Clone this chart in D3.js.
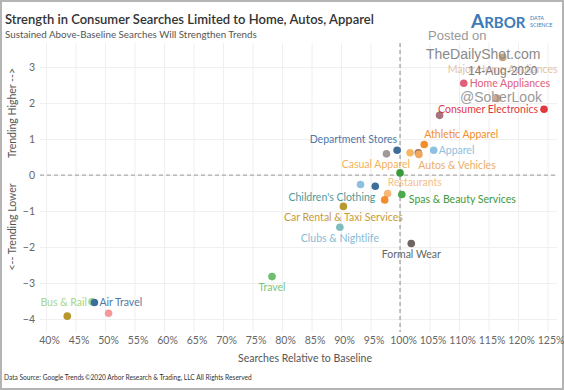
<!DOCTYPE html>
<html>
<head>
<meta charset="utf-8">
<script src="https://cdn.jsdelivr.net/npm/d3@7"></script>
<style>
  body { margin: 0; background: #fff; }
  svg { display: block; font-family: Lato, "Open Sans", sans-serif; }
</style>
</head>
<body>
<svg id="chart" width="564" height="390"></svg>
<script>
// search categories (blank = unlabelled point in the original)
const categories = [
    "Major Home Appliances", "Home Appliances", "", "Consumer Electronics", "",
    "Athletic Apparel", "Apparel", "Department Stores", "", "Casual Apparel",
    "Autos & Vehicles", "", "", "", "Children's Clothing",
    "Restaurants", "Spas & Beauty Services", "", "Car Rental & Taxi Services",
    "Clubs & Nightlife", "Formal Wear", "Travel", "Bus & Rail", "Air Travel", "", ""
];
// searches relative to baseline, %
const searchRel = [
    117.4, 110.8, 116.5, 124.4, 106.7,
    104.1, 105.7, 99.5, 97.7, 101.7,
    103.1, 103.2, 100.0, 93.3, 95.8,
    97.9, 100.3, 97.4, 90.4,
    89.8, 101.9, 78.3, 47.8, 48.2, 50.6, 43.6
];
// trend score
const trend = [
    3.27, 2.55, 2.13, 1.83, 1.66,
    0.85, 0.69, 0.69, 0.59, 0.62,
    0.62, 0.575, 0.06, -0.26, -0.31,
    -0.51, -0.54, -0.69, -0.87,
    -1.45, -1.90, -2.82, -3.52, -3.54, -3.84, -3.92
];
const xTicks = [40, 45, 50, 55, 60, 65, 70, 75, 80, 85, 90, 95, 100, 105, 110, 115, 120, 125];
const yTicks = [-4, -3, -2, -1, 0, 1, 2, 3];

// styling
const pointColours = [
    "#c9a27e", "#e0607c", "#d2a890", "#e03a3e", "#a8727f",
    "#f28e2b", "#8ec0e0", "#3c6e99", "#a09a96", "#f7b660",
    "#9c7560", "#f0a860", "#3a9a3a", "#8ec0e0", "#3c6e99",
    "#f5b87a", "#4caa4c", "#f28e2b", "#b89a30",
    "#7fbcbc", "#6e6461", "#6dbe6d", "#a6d68a", "#3c6e99", "#f59a9a", "#b8962e"
];
const labelStyle = {
    "Major Home Appliances": { dx: 0, dy: 16, anchor: "middle", colour: "#e3c4a4" },
    "Home Appliances": { dx: 6, dy: 4, anchor: "start", colour: "#e0607c" },
    "Consumer Electronics": { dx: -6, dy: 4, anchor: "end", colour: "#e03a3e" },
    "Athletic Apparel": { dx: 0, dy: -6, anchor: "start", colour: "#f28e2b" },
    "Apparel": { dx: 5, dy: 4, anchor: "start", colour: "#8ec0e0" },
    "Department Stores": { dx: 0, dy: -7, anchor: "end", colour: "#4e79a7" },
    "Casual Apparel": { dx: 0, dy: 15, anchor: "end", colour: "#f4b25b" },
    "Autos & Vehicles": { dx: 0, dy: 16, anchor: "start", colour: "#ecae6a" },
    "Children's Clothing": { dx: 0, dy: 15, anchor: "end", colour: "#4e9a9a" },
    "Restaurants": { dx: 0, dy: -7, anchor: "start", colour: "#f7c08a" },
    "Spas & Beauty Services": { dx: 7, dy: 8.5, anchor: "start", colour: "#3e9a3e" },
    "Car Rental & Taxi Services": { dx: 0, dy: 15, anchor: "middle", colour: "#c89a3a" },
    "Clubs & Nightlife": { dx: 0, dy: 15, anchor: "middle", colour: "#86bcd6" },
    "Formal Wear": { dx: 0, dy: 15, anchor: "middle", colour: "#666" },
    "Travel": { dx: 0, dy: 14, anchor: "middle", colour: "#7cc47c" },
    "Bus & Rail": { dx: -5, dy: 4, anchor: "end", colour: "#a6d68a" },
    "Air Travel": { dx: 5, dy: 4, anchor: "start", colour: "#4e79a7" }
};

const svg = d3.select("#chart");
const plotLeft = 40, plotRight = 557, plotTop = 43, plotBottom = 332;

const x = d3.scaleLinear().domain([38.98, 126.6]).range([plotLeft, plotRight]);
const y = d3.scaleLinear().domain([-4.36, 3.67]).range([plotBottom, plotTop]);

// frame
svg.append("rect")
    .attr("x", 1).attr("y", 1).attr("width", 562).attr("height", 388)
    .attr("fill", "#fff").attr("stroke", "#b4b4b4").attr("stroke-width", 2);

// grid
svg.append("g")
    .attr("transform", `translate(0,${plotBottom})`)
    .call(d3.axisBottom(x).tickValues(xTicks).tickSize(-(plotBottom - plotTop)).tickFormat(""))
    .call((g) => g.select(".domain").remove())
    .call((g) => g.selectAll("line").attr("stroke", "#efefef"));
svg.append("g")
    .attr("transform", `translate(${plotLeft},0)`)
    .call(d3.axisLeft(y).tickValues(yTicks).tickSize(-(plotRight - plotLeft)).tickFormat(""))
    .call((g) => g.select(".domain").remove())
    .call((g) => g.selectAll("line").attr("stroke", "#efefef"));

// tick labels
const xAxis = svg.append("g")
    .attr("transform", `translate(0,${plotBottom})`)
    .call(d3.axisBottom(x).tickValues(xTicks).tickSize(0).tickPadding(5).tickFormat((d) => d + "%"));
xAxis.select(".domain").remove();
xAxis.selectAll("text")
    .attr("font-family", "Lato, sans-serif").attr("font-size", 10.5).attr("fill", "#666")
    .attr("dx", 3);

const yAxis = svg.append("g")
    .attr("transform", `translate(${plotLeft},0)`)
    .call(d3.axisLeft(y).tickValues(yTicks).tickSize(0).tickPadding(5));
yAxis.select(".domain").remove();
yAxis.selectAll("text")
    .attr("font-family", "Lato, sans-serif").attr("font-size", 10.5).attr("fill", "#666");

// reference lines
svg.append("line")
    .attr("x1", x(100)).attr("x2", x(100)).attr("y1", plotTop).attr("y2", plotBottom)
    .attr("stroke", "#aaa").attr("stroke-width", 1.4).attr("stroke-dasharray", "4,3");
svg.append("line")
    .attr("x1", plotLeft).attr("x2", plotRight).attr("y1", y(0)).attr("y2", y(0))
    .attr("stroke", "#aaa").attr("stroke-width", 1.4).attr("stroke-dasharray", "4,3");

const pts = categories.map((c, i) => ({
    name: c, xv: searchRel[i], yv: trend[i], colour: pointColours[i]
}));

svg.append("g")
    .selectAll("circle")
    .data(pts)
    .join("circle")
    .attr("cx", (d) => x(d.xv))
    .attr("cy", (d) => y(d.yv))
    .attr("r", 3.8)
    .attr("fill", (d) => d.colour);

svg.append("g")
    .selectAll("text")
    .data(pts.filter((d) => d.name !== ""))
    .join("text")
    .attr("x", (d) => x(d.xv) + labelStyle[d.name].dx)
    .attr("y", (d) => y(d.yv) + labelStyle[d.name].dy)
    .attr("text-anchor", (d) => labelStyle[d.name].anchor)
    .attr("fill", (d) => labelStyle[d.name].colour)
    .attr("font-size", 10.5)
    .text((d) => d.name);

// titles
svg.append("text").attr("x", 5).attr("y", 24)
    .attr("font-size", 13).attr("font-weight", 600).attr("fill", "#333")
    .text("Strength in Consumer Searches Limited to Home, Autos, Apparel");
svg.append("text").attr("x", 5).attr("y", 38)
    .attr("font-size", 9.8).attr("fill", "#555")
    .text("Sustained Above-Baseline Searches Will Strengthen Trends");

svg.append("text").attr("x", 305).attr("y", 362)
    .attr("text-anchor", "middle").attr("font-size", 10.5).attr("fill", "#555")
    .text("Searches Relative to Baseline");
svg.append("text")
    .attr("transform", "translate(16,113) rotate(-90)")
    .attr("text-anchor", "middle").attr("font-size", 10.5).attr("fill", "#555")
    .text("Trending Higher -->");
svg.append("text")
    .attr("transform", "translate(16,227) rotate(-90)")
    .attr("text-anchor", "middle").attr("font-size", 10.5).attr("fill", "#555")
    .text("<-- Trending Lower");

// footer
svg.append("text").attr("x", 4).attr("y", 380)
    .attr("font-size", 6.6).attr("fill", "#333")
    .text("Data Source: Google Trends");
svg.append("text").attr("x", 85).attr("y", 380)
    .attr("font-size", 6.6).attr("fill", "#333")
    .text("©2020 Arbor Research & Trading, LLC   All Rights Reserved");

// logo
const logo = svg.append("text").attr("x", 471).attr("y", 28)
    .attr("fill", "#3d7ab8").attr("font-weight", 700).attr("font-family", "Lato, sans-serif");
logo.append("tspan").attr("font-size", 19).text("A");
logo.append("tspan").attr("font-size", 15).text("RBOR");
svg.append("text").attr("x", 530).attr("y", 20)
    .attr("fill", "#3d7ab8").attr("font-size", 5.5).text("DATA");
svg.append("text").attr("x", 530).attr("y", 27)
    .attr("fill", "#3d7ab8").attr("font-size", 5.5).text("SCIENCE");

// watermark
const wm = svg.append("g").attr("font-family", "'Liberation Sans', Arial, sans-serif");
wm.append("text").attr("x", 428).attr("y", 40).attr("font-size", 13).attr("fill", "#9a9a9a").text("Posted on");
wm.append("text").attr("x", 426).attr("y", 59).attr("font-size", 14).attr("fill", "#8a8a8a").text("TheDailyShot.com");
wm.append("text").attr("x", 468).attr("y", 75).attr("font-size", 12).attr("fill", "#6a6a6a").attr("opacity", 0.85).text("14-Aug-2020");
wm.append("text").attr("x", 460).attr("y", 102).attr("font-size", 14).attr("fill", "#8a8a8a").attr("opacity", 0.85).text("@SoberLook");
</script>
</body>
</html>
